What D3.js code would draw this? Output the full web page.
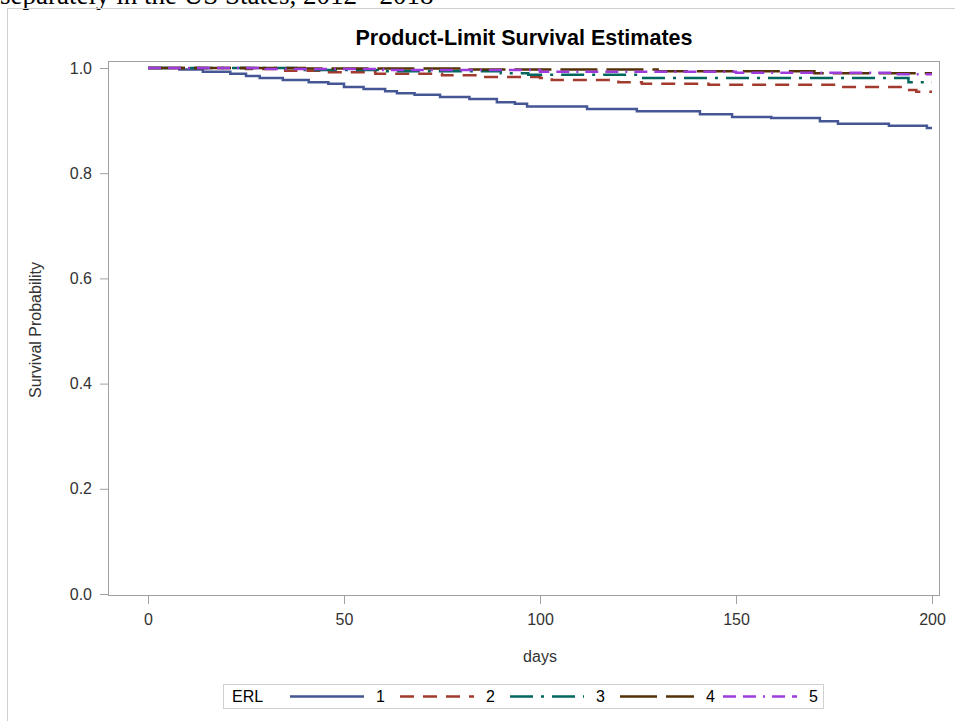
<!DOCTYPE html>
<html><head><meta charset="utf-8">
<script src="https://cdn.jsdelivr.net/npm/d3@7/dist/d3.min.js"></script>
<style>body{margin:0;background:#fff;}svg{display:block;}</style>
</head><body>
<script>
const groups = ["1","2","3","4","5"];
const colors = ["#445694","#A23A2E","#01665E","#543005","#9D3CDB"];
const dashes = ["none","14,9","23,8,3,8","37,9","13,7,13,7,2,7"];
const xTicks = [0,50,100,150,200];
const yTicks = [0.0,0.2,0.4,0.6,0.8,1.0];
// step curves: [day, survival]
const erl1 = [[0,1],[8,0.997],[14,0.993],[21,0.989],[25,0.985],[28.5,0.981],[34.4,0.977],[41,0.973],[46,0.970],[50,0.964],[55,0.960],[60.5,0.956],[63.5,0.952],[68,0.949],[74.5,0.945],[82,0.941],[89,0.935],[93.6,0.932],[96.7,0.927],[112,0.922],[124.7,0.918],[140.8,0.912],[149,0.907],[159,0.905],[171.4,0.899],[176,0.894],[189,0.890],[198.7,0.886],[200,0.886]];
const erl2 = [[0,1],[25,0.998],[35,0.995],[45,0.992],[58,0.989],[75,0.986],[85,0.983],[100,0.981],[103,0.977],[120,0.973],[126,0.970],[143,0.968],[175,0.964],[192,0.958],[196,0.955],[200,0.955]];
const erl3 = [[0,1],[40,0.996],[60,0.994],[90,0.990],[97,0.987],[125,0.981],[194,0.973],[200,0.973]];
const erl4 = [[0,1],[40,0.999],[80,0.997],[130,0.994],[170,0.990],[200,0.990]];
const erl5 = [[0,1],[30,0.998],[60,0.996],[100,0.993],[150,0.991],[190,0.988],[200,0.988]];
const series = [erl1,erl2,erl3,erl4,erl5];

const W=955,H=721;
const svg=d3.select("body").append("svg").attr("width",W).attr("height",H);
const font="Liberation Sans, Arial, sans-serif";

// caption (cut off at top in the reference)
svg.append("text").attr("x",0).attr("y",4).attr("font-family","Liberation Serif, Times New Roman, serif")
  .attr("font-size",27).attr("fill","#000").text("separately in the US States, 2012 - 2018");
// outer border
svg.append("path").attr("d",`M7.5,${H} V8.5 H${W}`).attr("fill","none").attr("stroke","#d0d0d0");

const L=108,T=61,R=940,B=596;
const x=d3.scaleLinear().domain([0,200]).range([148,932]);
const y=d3.scaleLinear().domain([0,1]).range([594,68]);

svg.append("text").attr("x",524).attr("y",45).attr("text-anchor","middle").attr("font-family",font)
  .attr("font-weight","bold").attr("font-size",21.5).attr("fill","#000").text("Product-Limit Survival Estimates");

const gx=svg.append("g").attr("transform",`translate(0,${B})`)
  .call(d3.axisBottom(x).tickValues(xTicks).tickSize(8).tickPadding(10).tickFormat(d3.format("d")));
const gy=svg.append("g").attr("transform",`translate(${L},0)`)
  .call(d3.axisLeft(y).tickValues(yTicks).tickSize(8).tickPadding(8).tickFormat(d3.format(".1f")));
[gx,gy].forEach(g=>{
  g.select(".domain").remove();
  g.selectAll(".tick line").attr("stroke","#a0a0a0");
  g.selectAll(".tick text").attr("font-family",font).attr("font-size",16).attr("fill","#333");
});
svg.append("rect").attr("x",L+0.5).attr("y",T+0.5).attr("width",R-L-1).attr("height",B-T-1)
  .attr("fill","none").attr("stroke","#a0a0a0");

svg.append("text").attr("x",540).attr("y",662).attr("text-anchor","middle").attr("font-family",font)
  .attr("font-size",16).attr("fill","#333").text("days");
svg.append("text").attr("transform","translate(41,330) rotate(-90)").attr("text-anchor","middle")
  .attr("font-family",font).attr("font-size",16).attr("fill","#333").text("Survival Probability");

const line=d3.line().x(d=>x(d[0])).y(d=>y(d[1])).curve(d3.curveStepAfter);
series.forEach((s,i)=>{
  svg.append("path").datum(s).attr("d",line).attr("fill","none").attr("stroke",colors[i])
    .attr("stroke-width",2.5).attr("stroke-dasharray",dashes[i]);
});

// legend
const lg=svg.append("g");
lg.append("rect").attr("x",223.5).attr("y",684.5).attr("width",600).attr("height",24)
  .attr("fill","#fff").attr("stroke","#d0d0d0");
lg.append("text").attr("x",232).attr("y",702).attr("font-family",font).attr("font-size",16).attr("fill","#000").text("ERL");
const lineStarts=[290,400,510,620,723];
groups.forEach((g,i)=>{
  const x0=lineStarts[i];
  lg.append("line").attr("x1",x0).attr("x2",x0+74).attr("y1",696.5).attr("y2",696.5)
    .attr("stroke",colors[i]).attr("stroke-width",2.5).attr("stroke-dasharray",dashes[i]);
  lg.append("text").attr("x",x0+86).attr("y",702).attr("font-family",font).attr("font-size",16)
    .attr("fill","#000").text(g);
});
</script>
</body></html>
